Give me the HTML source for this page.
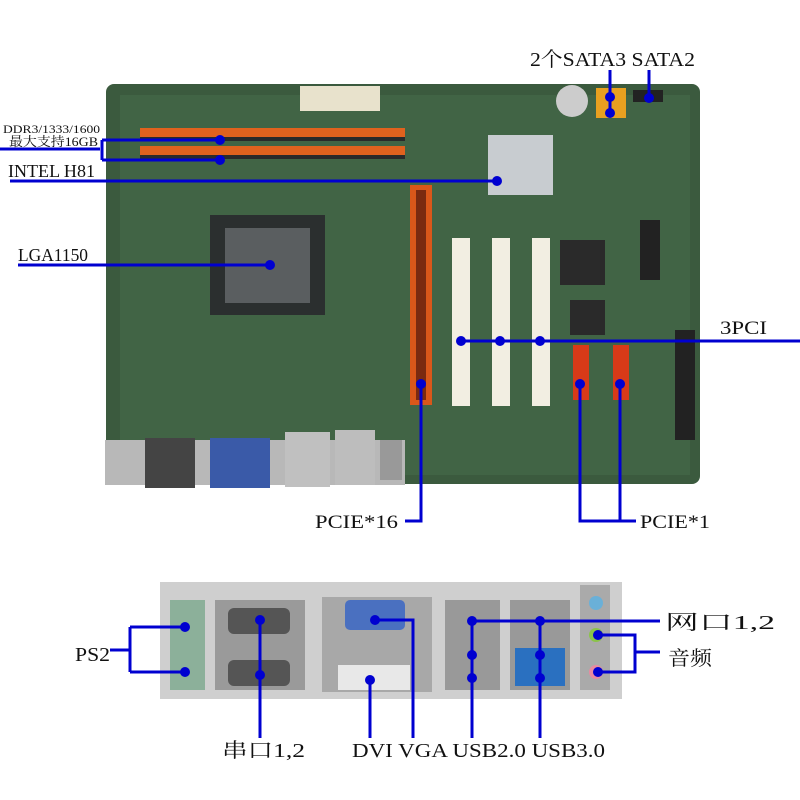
<!DOCTYPE html><html><head><meta charset="utf-8"><style>body{margin:0;background:#fff}svg{display:block}text{font-family:"Liberation Serif","Noto Serif CJK SC",serif;fill:#111}</style></head><body>
<svg width="800" height="800" viewBox="0 0 800 800">
<rect x="106" y="84" width="594" height="400" rx="8" fill="#3b5a3e"/>
<rect x="120" y="95" width="570" height="380" fill="#416445"/>
<rect x="300" y="86" width="80" height="25" fill="#e8e2cc"/>
<rect x="140" y="128" width="265" height="10" fill="#e0621e"/>
<rect x="140" y="146" width="265" height="10" fill="#e0621e"/>
<rect x="140" y="137" width="265" height="4" fill="#2a2a2a"/>
<rect x="140" y="155" width="265" height="4" fill="#2a2a2a"/>
<rect x="488" y="135" width="65" height="60" fill="#c8ccd0"/>
<rect x="210" y="215" width="115" height="100" fill="#2b2f2f"/>
<rect x="225" y="228" width="85" height="75" fill="#5a5e60"/>
<rect x="410" y="185" width="22" height="220" fill="#d9571a"/>
<rect x="416" y="190" width="10" height="210" fill="#7a2a10"/>
<rect x="452" y="238" width="18" height="168" fill="#f2eee2"/>
<rect x="492" y="238" width="18" height="168" fill="#f2eee2"/>
<rect x="532" y="238" width="18" height="168" fill="#f2eee2"/>
<rect x="573" y="345" width="16" height="55" fill="#d83a18"/>
<rect x="613" y="345" width="16" height="55" fill="#d83a18"/>
<rect x="556" y="85" width="32" height="32" rx="16" fill="#ccc"/>
<rect x="596" y="88" width="30" height="30" fill="#e8a020"/>
<rect x="633" y="90" width="30" height="12" fill="#222"/>
<rect x="560" y="240" width="45" height="45" fill="#2a2a2a"/>
<rect x="570" y="300" width="35" height="35" fill="#2a2a2a"/>
<rect x="640" y="220" width="20" height="60" fill="#222"/>
<rect x="675" y="330" width="20" height="110" fill="#222"/>
<rect x="105" y="440" width="300" height="45" fill="#b8b8b8"/>
<rect x="145" y="438" width="50" height="50" fill="#444"/>
<rect x="210" y="438" width="60" height="50" fill="#3a5aa8"/>
<rect x="285" y="432" width="45" height="55" fill="#c0c0c0"/>
<rect x="335" y="430" width="40" height="55" fill="#bdbdbd"/>
<rect x="380" y="440" width="22" height="40" fill="#999"/>
<rect x="160" y="582" width="462" height="117" fill="#cfcfcf"/>
<rect x="170" y="600" width="35" height="90" fill="#8cb09a"/>
<rect x="215" y="600" width="90" height="90" fill="#9a9a9a"/>
<rect x="228" y="608" width="62" height="26" rx="6" fill="#555"/>
<rect x="228" y="660" width="62" height="26" rx="6" fill="#555"/>
<rect x="322" y="597" width="110" height="95" fill="#a8a8a8"/>
<rect x="345" y="600" width="60" height="30" rx="5" fill="#4a70c0"/>
<rect x="338" y="665" width="72" height="25" fill="#e8e8e8"/>
<rect x="445" y="600" width="55" height="90" fill="#999"/>
<rect x="510" y="600" width="60" height="90" fill="#999"/>
<rect x="515" y="648" width="50" height="38" fill="#2a70c0"/>
<rect x="580" y="585" width="30" height="105" fill="#aaa"/>
<circle cx="596" cy="603" r="7" fill="#6ab0d8"/><circle cx="596" cy="635" r="7" fill="#8bc34a"/><circle cx="596" cy="672" r="7" fill="#e88aa0"/>
<g stroke="#0000d0" stroke-width="3" fill="none">
<path d="M0 149H100M102 140V160M102 140H220M102 160H220"/>
<path d="M10 181H497M18 265H270M460 341H800"/>
<path d="M610 70V113M649 70V98"/>
<path d="M421 384V521H405M580 384V521H636M620 384V521"/>
<path d="M110 650H130M130 627V672M130 627H185M130 672H185"/>
<path d="M260 620V738M370 680V738M375 620H413V738M472 621V738M540 621V738M472 621H660"/>
<path d="M598 635H635V672H598M635 652H660"/>
</g>
<g fill="#0000d0">
<circle cx="220" cy="140" r="5"/><circle cx="220" cy="160" r="5"/><circle cx="497" cy="181" r="5"/><circle cx="270" cy="265" r="5"/>
<circle cx="461" cy="341" r="5"/><circle cx="500" cy="341" r="5"/><circle cx="540" cy="341" r="5"/>
<circle cx="610" cy="97" r="5"/><circle cx="610" cy="113" r="5"/><circle cx="649" cy="98" r="5"/>
<circle cx="421" cy="384" r="5"/><circle cx="580" cy="384" r="5"/><circle cx="620" cy="384" r="5"/>
<circle cx="185" cy="627" r="5"/><circle cx="185" cy="672" r="5"/>
<circle cx="260" cy="620" r="5"/><circle cx="260" cy="675" r="5"/><circle cx="370" cy="680" r="5"/><circle cx="375" cy="620" r="5"/>
<circle cx="472" cy="621" r="5"/><circle cx="472" cy="655" r="5"/><circle cx="472" cy="678" r="5"/>
<circle cx="540" cy="621" r="5"/><circle cx="540" cy="655" r="5"/><circle cx="540" cy="678" r="5"/>
<circle cx="598" cy="635" r="5"/><circle cx="598" cy="672" r="5"/>
</g>
<g lengthAdjust="spacingAndGlyphs">
<text x="530" y="66" font-size="20" textLength="165" lengthAdjust="spacingAndGlyphs">2个SATA3  SATA2</text>
<text x="3" y="133" font-size="12" textLength="97" lengthAdjust="spacingAndGlyphs">DDR3/1333/1600</text>
<text x="9" y="146" font-size="13" textLength="89" lengthAdjust="spacingAndGlyphs">最大支持16GB</text>
<text x="8" y="177" font-size="18" textLength="87" lengthAdjust="spacingAndGlyphs">INTEL H81</text>
<text x="18" y="261" font-size="18" textLength="70" lengthAdjust="spacingAndGlyphs">LGA1150</text>
<text x="720" y="334" font-size="19" textLength="47" lengthAdjust="spacingAndGlyphs">3PCI</text>
<text x="315" y="528" font-size="19" textLength="83" lengthAdjust="spacingAndGlyphs">PCIE*16</text>
<text x="640" y="528" font-size="19" textLength="70" lengthAdjust="spacingAndGlyphs">PCIE*1</text>
<text x="665" y="629" font-size="20" textLength="110" lengthAdjust="spacingAndGlyphs">网口1,2</text>
<text x="668" y="665" font-size="20" textLength="44" lengthAdjust="spacingAndGlyphs">音频</text>
<text x="75" y="661" font-size="20" textLength="35" lengthAdjust="spacingAndGlyphs">PS2</text>
<text x="222" y="757" font-size="20" textLength="83" lengthAdjust="spacingAndGlyphs">串口1,2</text>
<text x="352" y="757" font-size="20" textLength="253" lengthAdjust="spacingAndGlyphs">DVI VGA USB2.0 USB3.0</text>
</g>
</svg></body></html>
